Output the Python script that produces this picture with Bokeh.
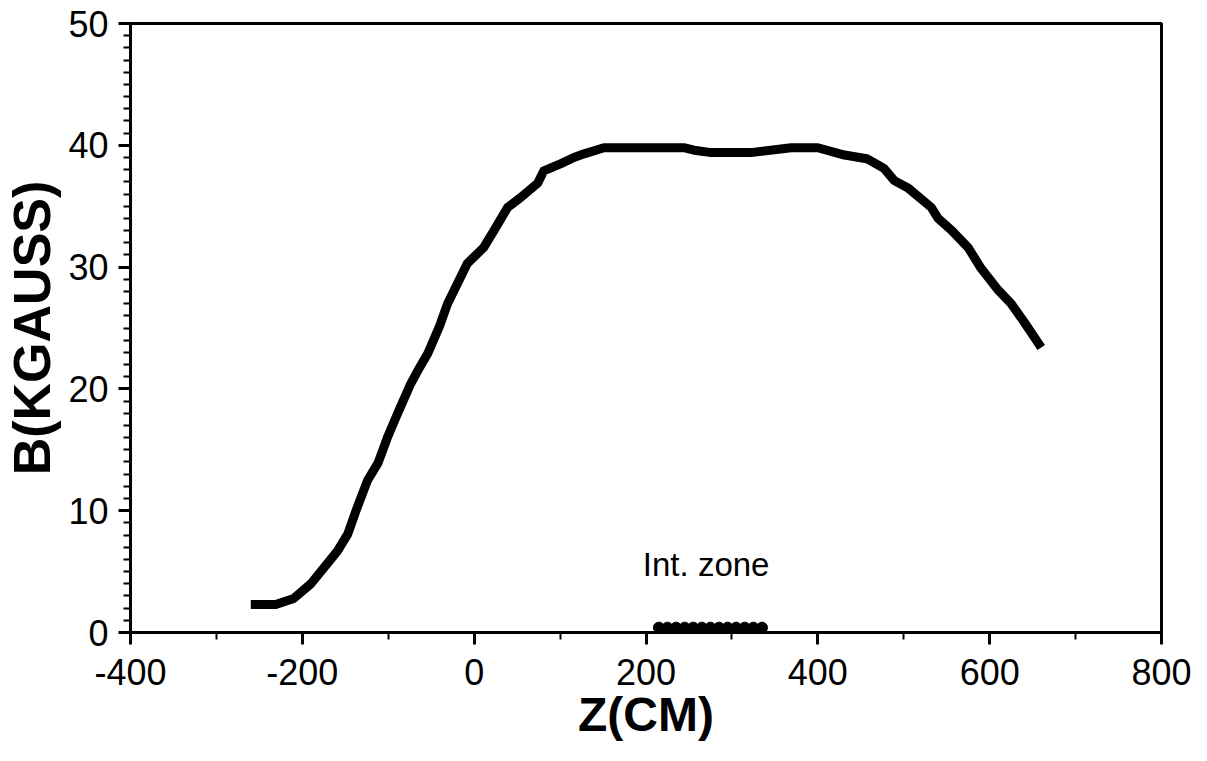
from bokeh.plotting import figure
from bokeh.models import FixedTicker, Range1d, Label
from bokeh.embed import file_html
from bokeh.resources import INLINE

# Field profile B(z)
z_cm = [-260, -231, -210, -190, -175, -159, -147, -136, -124, -112, -101, -89, -74, -64,
        -54, -40, -31, -8, 11, 23, 39, 54, 74, 81, 101, 116, 128, 151, 174, 210, 244,
        256, 276, 322, 369, 400, 431, 457, 477, 489, 505, 532, 540, 556, 575, 590, 610,
        625, 641, 660]
b_kgauss = [2.3, 2.3, 2.8, 4.0, 5.3, 6.7, 8.1, 10.3, 12.5, 13.9, 16.0, 18.0, 20.4, 21.7,
            22.9, 25.2, 27.0, 30.3, 31.6, 33.0, 34.9, 35.7, 36.9, 37.9, 38.5, 39.0, 39.3,
            39.8, 39.8, 39.8, 39.8, 39.6, 39.4, 39.4, 39.8, 39.8, 39.2, 38.9, 38.1, 37.1,
            36.5, 34.9, 34.0, 33.0, 31.6, 29.9, 28.1, 27.0, 25.4, 23.4]

# Interaction zone markers
zone_z = [215, 225, 235, 245, 255, 265, 275, 285, 295, 305, 315, 325, 335]
zone_b = [0.4] * len(zone_z)

x_ticks = [-400, -200, 0, 200, 400, 600, 800]
x_minor = [-300, -100, 100, 300, 500, 700]
y_ticks = [0, 10, 20, 30, 40, 50]
y_minor = list(range(0, 51))

FONT = "Liberation Sans"

p = figure(width=1207, height=761, output_backend="svg", toolbar_location=None,
           x_range=Range1d(-400, 800), y_range=Range1d(0, 50),
           min_border_left=130, min_border_right=46, min_border_top=23, min_border_bottom=129)
p.background_fill_color = "white"
p.border_fill_color = "white"
p.grid.visible = False
p.outline_line_color = "black"
p.outline_line_width = 3

p.line(z_cm, b_kgauss, line_color="black", line_width=9, line_join="round", line_cap="butt")
p.scatter(zone_z, zone_b, marker="circle", size=11, fill_color="black", line_color="black")

p.add_layout(Label(x=270, y=5.6, text="Int. zone", text_font=FONT, text_font_size="33px",
                   text_align="center", text_baseline="alphabetic", text_color="black"))

xa = p.xaxis[0]
xa.ticker = FixedTicker(ticks=x_ticks, minor_ticks=x_minor)
xa.major_label_overrides = {v: str(v) for v in x_ticks}
xa.axis_label = "Z(CM)"
ya = p.yaxis[0]
ya.ticker = FixedTicker(ticks=y_ticks, minor_ticks=y_minor)
ya.major_label_overrides = {v: str(v) for v in y_ticks}
ya.axis_label = "B(KGAUSS)"

for ax in (xa, ya):
    ax.axis_line_color = "black"
    ax.axis_line_width = 3
    ax.major_tick_line_color = "black"
    ax.major_tick_line_width = 3
    ax.minor_tick_line_color = "black"
    ax.minor_tick_line_width = 2
    ax.major_tick_in = 0
    ax.minor_tick_in = 0
    ax.major_label_text_font = FONT
    ax.major_label_text_font_size = "36px"
    ax.major_label_text_color = "black"
    ax.axis_label_text_font = FONT
    ax.axis_label_text_font_style = "bold"
    ax.axis_label_text_color = "black"

xa.major_tick_out = 12
xa.minor_tick_out = 7
xa.major_label_standoff = 14
xa.axis_label_text_font_size = "48px"
xa.axis_label_standoff = 0

ya.major_tick_out = 12
ya.minor_tick_out = 7
ya.major_label_standoff = 10
ya.axis_label_text_font_size = "52px"
ya.axis_label_standoff = 4

open("out.html", "w").write(file_html(p, INLINE))
